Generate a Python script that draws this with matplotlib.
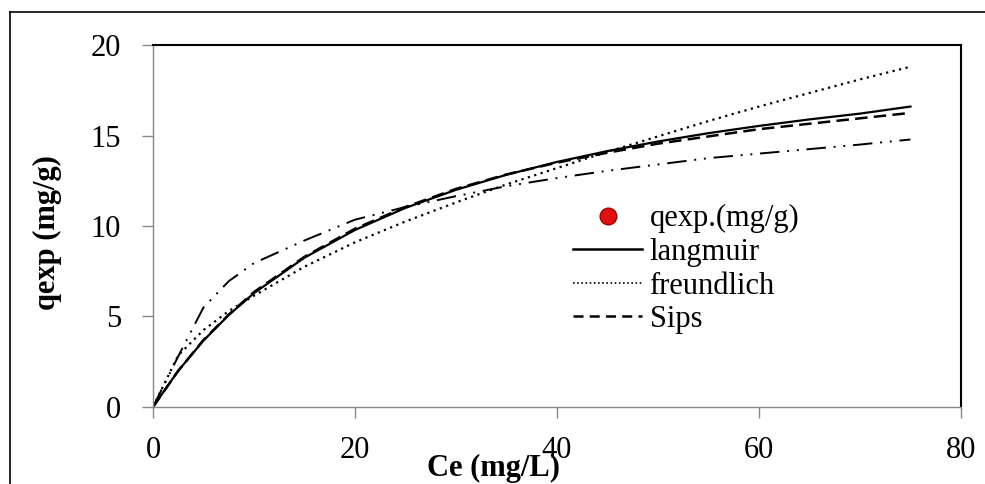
import matplotlib
matplotlib.use("Agg")
import matplotlib.pyplot as plt
from matplotlib.lines import Line2D

plt.rcParams['font.family'] = ['Liberation Serif', 'DejaVu Serif']

# Ce (mg/L)
ce = [0, 2.5, 5, 7.5, 10, 15, 20, 25, 30, 35, 40, 45, 50, 55, 60, 65, 70, 75]
# модели
q_langmuir = [0, 2.0, 3.67, 5.08, 6.29, 8.25, 9.78, 11.0, 12.0, 12.83, 13.54,
              14.14, 14.67, 15.13, 15.53, 15.89, 16.21, 16.6]
q_freundlich = [0, 2.85, 4.25, 5.3, 6.15, 7.75, 9.1, 10.25, 11.3, 12.3, 13.2,
                14.1, 14.95, 15.8, 16.6, 17.35, 18.1, 18.8]
q_sips = [0, 2.0, 3.7, 5.1, 6.35, 8.3, 9.85, 11.05, 12.05, 12.85, 13.5,
          14.05, 14.55, 14.95, 15.35, 15.65, 15.95, 16.25]
q_other = [0, 2.8, 5.5, 6.95, 7.95, 9.2, 10.35, 11.05, 11.65, 12.2, 12.65,
           13.05, 13.4, 13.75, 14.0, 14.25, 14.5, 14.78]

fig = plt.figure(figsize=(9.85, 4.84), dpi=100)
ax = fig.add_axes([0.1553, 0.1591, 0.8203, 0.7479])

ax.plot(ce, q_langmuir, color='black', lw=1.6, ls='-')
ax.plot(ce, q_freundlich, color='black', lw=1.6, ls=(0, (1, 2)))
ax.plot(ce, q_sips, color='black', lw=1.8, ls=(0, (5, 2.5)))
ax.plot(ce, q_other, color='black', lw=1.4, ls=(0, (10, 4, 1, 4, 1, 4)))

ax.set_xlim(0, 80)
ax.set_ylim(0, 20)
ax.set_xticks([0, 20, 40, 60, 80])
ax.set_yticks([0, 5, 10, 15, 20])
ax.tick_params(direction='out', length=8, width=1, color='#888888',
               labelsize=22)
ax.tick_params(axis='x', pad=13)
ax.tick_params(axis='y', pad=15)

for s in ['left', 'bottom']:
    ax.spines[s].set_color('#888888')
    ax.spines[s].set_linewidth(1)
for s in ['top', 'right']:
    ax.spines[s].set_color('black')
    ax.spines[s].set_linewidth(1.5)

ax.set_xlabel('Ce (mg/L)', fontsize=22, fontweight='bold', va='center')
ax.xaxis.set_label_coords(0.422, -0.1685)
ax.set_ylabel('qexp (mg/g)', fontsize=22, fontweight='bold', va='center')
ax.yaxis.set_label_coords(-0.13, 0.4807)

handles = [
    Line2D([], [], ls='none', marker='o', markersize=12,
           markerfacecolor='#e01010', markeredgecolor='#a00000'),
    Line2D([], [], color='black', lw=1.8, ls='-'),
    Line2D([], [], color='black', lw=1.2, ls=(0, (1, 1.5))),
    Line2D([], [], color='black', lw=1.8, ls=(0, (4, 2.5))),
]
labels = ['qexp.(mg/g)', 'langmuir', 'freundlich', 'Sips']
ax.legend(handles, labels, loc='upper left', bbox_to_anchor=(0.52, 0.56),
          frameon=False, fontsize=22, handlelength=2.25, handletextpad=0.25,
          labelspacing=0.15, borderpad=0, borderaxespad=0)

# рамка рисунка
fig.add_artist(Line2D([10 / 985, 10 / 985], [0, 1 - 12 / 484],
                      transform=fig.transFigure, color='black', lw=1.2))
fig.add_artist(Line2D([10 / 985, 1], [1 - 12 / 484, 1 - 12 / 484],
                      transform=fig.transFigure, color='black', lw=1.2))

fig.savefig('out.png', dpi=100)
